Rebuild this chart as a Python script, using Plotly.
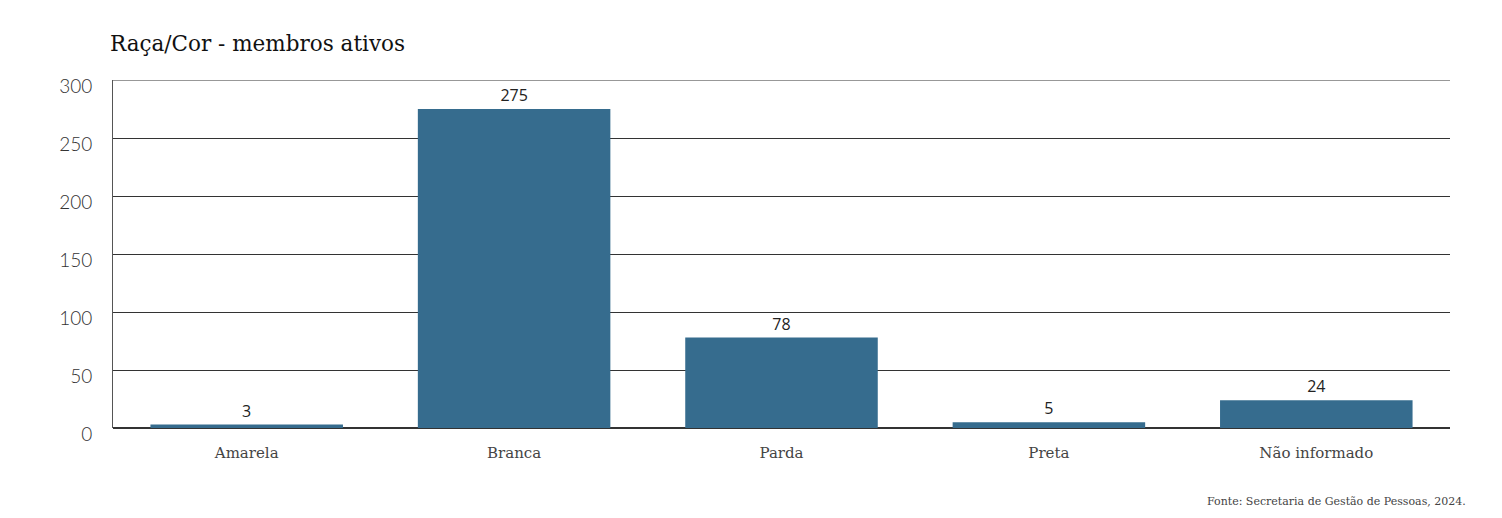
import plotly.graph_objects as go

categories = ["Amarela", "Branca", "Parda", "Preta", "Não informado"]
values = [3, 275, 78, 5, 24]
y_ticks = [0, 50, 100, 150, 200, 250, 300]

fig = go.Figure(go.Bar(
    x=categories, y=values,
    marker=dict(color="#366c8e", line=dict(width=0)),
    text=[str(v) for v in values], textposition="outside",
    textfont=dict(family="Open Sans", size=16, color="#222222"),
    cliponaxis=False,
))

fig.add_hline(y=300, line=dict(color="#333333", width=1))

fig.update_layout(
    width=1502, height=518,
    margin=dict(l=105, r=60, t=72, b=98),
    plot_bgcolor="white", paper_bgcolor="white",
    bargap=0.28,
    showlegend=False,
    title=dict(text="Raça/Cor - membros ativos", x=102/1502, xanchor="left",
               y=1-35/518, yanchor="middle",
               font=dict(family="DejaVu Serif", size=21.5, color="#111111")),
    xaxis=dict(showline=False, ticks="", automargin=False,
               tickfont=dict(family="DejaVu Serif", size=15, color="#444444", weight=300),
               ticklabelstandoff=14),
    yaxis=dict(range=[0, 300], tickvals=y_ticks, showgrid=True, gridcolor="#333333", gridwidth=1,
               showline=True, linecolor="#555555", linewidth=1, zeroline=True, zerolinecolor="#333333",
               automargin=False,
               tickfont=dict(family="Lato", size=19, color="#333333", weight=300),
               ticklabelstandoff=16, ticklabelshift=6),
    annotations=[dict(text="Fonte: Secretaria de Gestão de Pessoas, 2024.", xref="paper", yref="paper",
                      x=1.0135, xanchor="right", y=-0.21, yanchor="middle",
                      showarrow=False, font=dict(family="DejaVu Serif", size=11, color="#444444"))],
)
fig.write_html("out.html")
